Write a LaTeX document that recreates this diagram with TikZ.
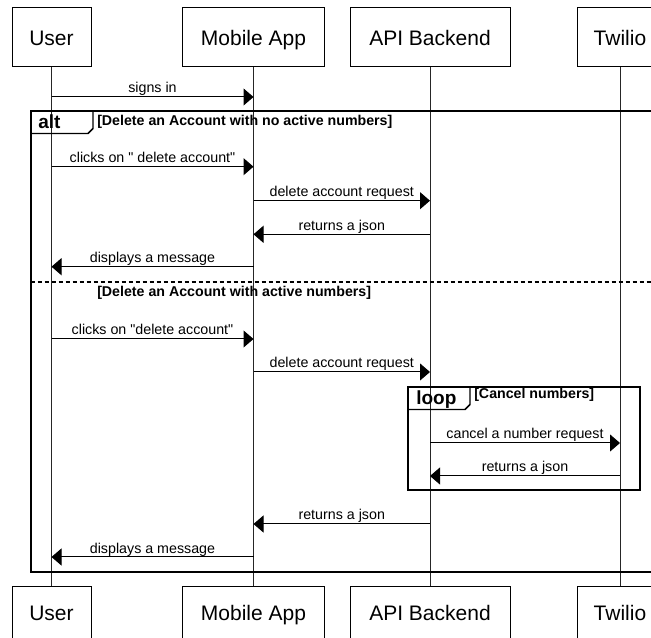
\documentclass[tikz,border=0pt]{standalone}
\usepackage{fontspec}
\setmainfont{Liberation Sans}
% plain family without TeX ligatures, so " stays a straight quote
\newfontfamily\lsans{Liberation Sans}
\usetikzlibrary{arrows.meta}

\begin{document}
\begin{tikzpicture}[x=0.75pt,y=-0.75pt,
  actor/.style={draw=black, line width=0.75pt, minimum height=44.25pt, inner sep=0pt,
    text height=11.3pt, text depth=0pt,
    font=\lsans\fontsize{15.75}{18}\selectfont},
  actorlow/.style={actor, text depth=5.2pt},
  lifeline/.style={line width=0.75pt, draw=black!85},
  msg/.style={line width=0.75pt, -{Triangle[length=7.5pt,width=12.75pt]}},
  lbl/.style={anchor=base, inner sep=0pt, yshift=3pt, font=\lsans\fontsize{10.7}{12}\selectfont},
  frame/.style={line width=1.5pt},
  tab/.style={line width=1.1pt, line join=miter},
  ftitle/.style={anchor=base west, inner sep=0pt, font=\lsans\bfseries\fontsize{14.25}{16}\selectfont},
  guard/.style={anchor=base west, inner sep=0pt, font=\lsans\bfseries\fontsize{10.65}{12}\selectfont},
  sep/.style={line width=1.5pt, dash pattern=on 3pt off 2.25pt},
]
\useasboundingbox (0,0) rectangle (651,638);
\clip (0,0) rectangle (651,638);

% participants, top and bottom
\node[actor, minimum width=59.25pt] (uTop) at (51.5,37.5) {User};
\node[actor, minimum width=106.5pt] (mTop) at (253.5,37.5) {Mobile App};
\node[actor, minimum width=120pt]   (aTop) at (430,37.5) {API Backend};
\node[actor, minimum width=64.5pt]  (tTop) at (620,37.5) {Twilio};
\node[actorlow, minimum width=59.25pt] (uBot) at (51.5,616.5) {User};
\node[actorlow, minimum width=106.5pt] (mBot) at (253.5,616.5) {Mobile App};
\node[actorlow, minimum width=120pt]   (aBot) at (430,616.5) {API Backend};
\node[actorlow, minimum width=64.5pt]  (tBot) at (620,616.5) {Twilio};

% lifelines
\draw[lifeline] (uTop.south) -- (uBot.north);
\draw[lifeline] (mTop.south) -- (mBot.north);
\draw[lifeline] (aTop.south) -- (aBot.north);
\draw[lifeline] (tTop.south) -- (tBot.north);

% alt fragment
\draw[frame] (30.5,111) rectangle (660,572.5);
\draw[tab] (30.5,111) -- (93,111) -- (93,128.5) -- (88,133.5) -- (30.5,133.5);
\node[ftitle] (altT) at (38,129) {alt};
\node[guard] (g1) at (97,126) {[Delete an Account with no active numbers]};
\draw[sep] (30.5,282.3) -- (660,282.3);
\node[guard] (g2) at (97,296.5) {[Delete an Account with active numbers]};

% loop fragment
\draw[frame] (408,387) rectangle (640,490);
\draw[tab] (408,387) -- (470,387) -- (470,404.5) -- (465,409.5) -- (408,409.5);
\node[ftitle] (loopT) at (416,405) {loop};
\node[guard] (g3) at (474,398.5) {[Cancel numbers]};

% message rows
\coordinate (r1) at (0,97);
\coordinate (r2) at (0,166.7);
\coordinate (r3) at (0,200.7);
\coordinate (r4) at (0,234.3);
\coordinate (r5) at (0,266.7);
\coordinate (r6) at (0,339);
\coordinate (r7) at (0,372);
\coordinate (r8) at (0,443);
\coordinate (r9) at (0,476);
\coordinate (r10) at (0,524);
\coordinate (r11) at (0,557);

\draw[msg] (uTop |- r1) -- node[lbl] {signs in} (mTop |- r1);
\draw[msg] (uTop |- r2) -- node[lbl] {clicks on " delete account"} (mTop |- r2);
\draw[msg] (mTop |- r3) -- node[lbl] {delete account request} (aTop |- r3);
\draw[msg] (aTop |- r4) -- node[lbl] {returns a json} (mTop |- r4);
\draw[msg] (mTop |- r5) -- node[lbl] {displays a message} (uTop |- r5);
\draw[msg] (uTop |- r6) -- node[lbl] {clicks on "delete account"} (mTop |- r6);
\draw[msg] (mTop |- r7) -- node[lbl] {delete account request} (aTop |- r7);
\draw[msg] (aTop |- r8) -- node[lbl] {cancel a number request} (tTop |- r8);
\draw[msg] (tTop |- r9) -- node[lbl] {returns a json} (aTop |- r9);
\draw[msg] (aTop |- r10) -- node[lbl] {returns a json} (mTop |- r10);
\draw[msg] (mTop |- r11) -- node[lbl] {displays a message} (uTop |- r11);
\end{tikzpicture}
\end{document}
